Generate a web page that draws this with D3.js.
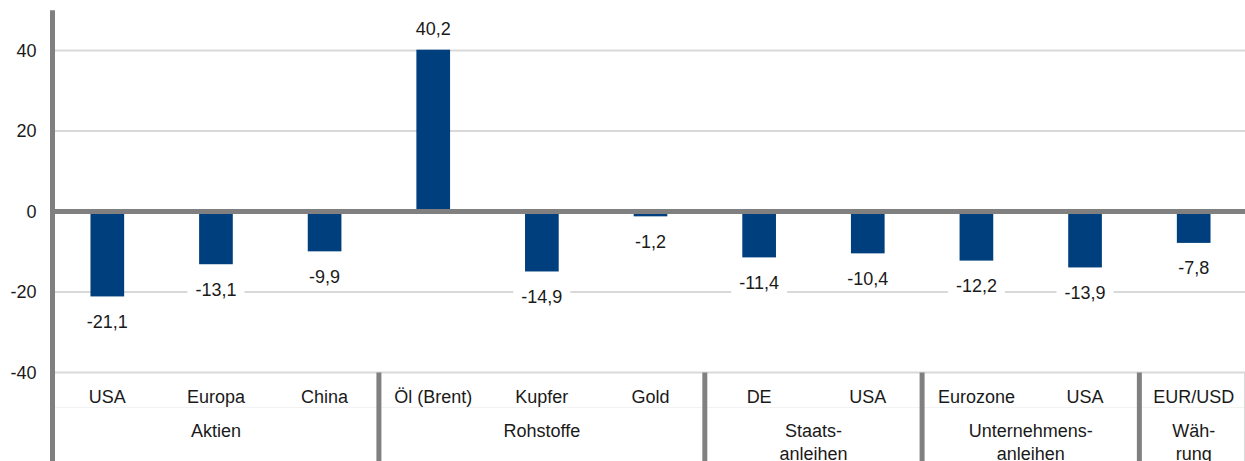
<!DOCTYPE html>
<html>
<head>
<meta charset="utf-8">
<script src="https://cdn.jsdelivr.net/npm/d3@7"></script>
<style>
  body { margin: 0; background: #fff; }
  svg { display: block; font-family: "Liberation Sans", Arial, sans-serif; }
</style>
</head>
<body>
<svg width="1245" height="461"></svg>
<script>
var categories = ["USA", "Europa", "China", "Öl (Brent)", "Kupfer", "Gold", "DE", "USA", "Eurozone", "USA", "EUR/USD"];
var values = [-21.1, -13.1, -9.9, 40.2, -14.9, -1.2, -11.4, -10.4, -12.2, -13.9, -7.8];
var groupNames = [["Aktien"], ["Rohstoffe"], ["Staats-", "anleihen"], ["Unternehmens-", "anleihen"], ["Wäh-", "rung"]];
var groupSizes = [3, 3, 2, 2, 1];
var yTicks = [-40, -20, 0, 20, 40];

var svg = d3.select("svg");
var width = 1245, height = 461;
var axisX = 52.5;

var x = d3.scaleBand()
  .domain(d3.range(categories.length))
  .range([53, 1248])
  .paddingInner(0.69)
  .paddingOuter(0.345);

var y = d3.scaleLinear().domain([-40, 50]).range([372.5, 10.25]);

var de = d3.formatLocale({decimal: ",", thousands: ".", grouping: [3], currency: ["", "€"], minus: "-"});
var fmt = de.format(".1f");
var tickFmt = de.format("d");

// gridlines
svg.append("g")
  .selectAll("line")
  .data(yTicks.filter(function(d) { return d !== 0; }))
  .join("line")
  .attr("x1", axisX)
  .attr("x2", width)
  .attr("y1", function(d) { return y(d); })
  .attr("y2", function(d) { return y(d); })
  .attr("stroke", "#d9d9d9")
  .attr("stroke-width", 2);

// faint line between the two label rows
svg.append("line")
  .attr("x1", axisX).attr("x2", width)
  .attr("y1", 407.5).attr("y2", 407.5)
  .attr("stroke", "#f2f2f2")
  .attr("stroke-width", 1);

// right edge of category area
svg.append("line")
  .attr("x1", 1244.5).attr("x2", 1244.5)
  .attr("y1", y(-40)).attr("y2", height)
  .attr("stroke", "#d9d9d9")
  .attr("stroke-width", 1);

// bars
svg.append("g")
  .selectAll("rect")
  .data(values)
  .join("rect")
  .attr("x", function(d, i) { return x(i); })
  .attr("width", x.bandwidth())
  .attr("y", function(d) { return d >= 0 ? y(d) : y(0); })
  .attr("height", function(d) { return Math.abs(y(d) - y(0)); })
  .attr("fill", "#003f7d");

// zero line
svg.append("line")
  .attr("x1", axisX).attr("x2", width)
  .attr("y1", y(0)).attr("y2", y(0))
  .attr("stroke", "#808080")
  .attr("stroke-width", 5);

// value labels with white background
var labels = svg.append("g")
  .selectAll("g")
  .data(values)
  .join("g")
  .attr("transform", function(d, i) {
    var cy = d >= 0 ? y(d) - 21 : y(d) + 25;
    return "translate(" + (x(i) + x.bandwidth() / 2) + "," + cy + ")";
  });

labels.append("text")
  .attr("text-anchor", "middle")
  .attr("dy", "0.35em")
  .attr("font-size", 18)
  .attr("fill", "#1a1a1a")
  .text(function(d) { return fmt(d); });

labels.each(function() {
  var g = d3.select(this);
  var b = g.select("text").node().getBBox();
  g.insert("rect", "text")
    .attr("x", b.x - 8)
    .attr("y", b.y - 2)
    .attr("width", b.width + 16)
    .attr("height", b.height + 4)
    .attr("fill", "#fff");
});

// y axis
var axisLeft = d3.axisLeft(y).tickValues(yTicks).tickSize(0).tickPadding(16).tickFormat(tickFmt);
var ay = svg.append("g")
  .attr("transform", "translate(" + axisX + ",0)")
  .call(axisLeft);
ay.select(".domain").remove();
ay.selectAll("text")
  .attr("font-size", 18)
  .attr("font-family", "Liberation Sans, Arial, sans-serif")
  .attr("fill", "#1a1a1a");

svg.append("line")
  .attr("x1", axisX).attr("x2", axisX)
  .attr("y1", y(50)).attr("y2", height)
  .attr("stroke", "#808080")
  .attr("stroke-width", 5);

// category labels
svg.append("g")
  .selectAll("text")
  .data(categories)
  .join("text")
  .attr("x", function(d, i) { return x(i) + x.bandwidth() / 2; })
  .attr("y", 397)
  .attr("dy", "0.35em")
  .attr("text-anchor", "middle")
  .attr("font-size", 18)
  .attr("fill", "#1a1a1a")
  .text(function(d) { return d; });

// groups
var step = x.step();
var start = 0;
groupSizes.forEach(function(n, gi) {
  var left = x(start) + x.bandwidth() / 2 - step / 2;
  var right = x(start + n - 1) + x.bandwidth() / 2 + step / 2;
  var cx = (left + right) / 2;
  var t = svg.append("text")
    .attr("text-anchor", "middle")
    .attr("font-size", 18)
    .attr("fill", "#1a1a1a");
  groupNames[gi].forEach(function(line, li) {
    t.append("tspan")
      .attr("x", cx)
      .attr("y", 431 + li * 23)
      .attr("dy", "0.35em")
      .text(line);
  });
  if (gi > 0) {
    svg.append("line")
      .attr("x1", left).attr("x2", left)
      .attr("y1", y(-40)).attr("y2", height)
      .attr("stroke", "#808080")
      .attr("stroke-width", 5);
  }
  start += n;
});
</script>
</body>
</html>
